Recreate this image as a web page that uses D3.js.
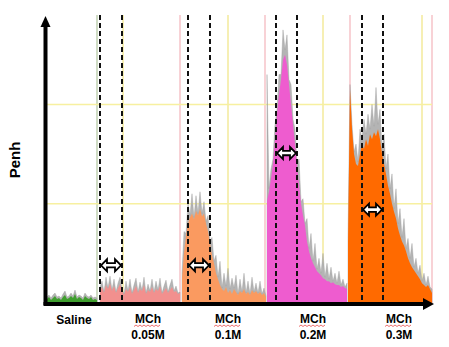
<!DOCTYPE html>
<html>
<head>
<meta charset="utf-8">
<script src="https://cdn.jsdelivr.net/npm/d3@7"></script>
<style>
  html, body { margin: 0; padding: 0; background: #fff; }
  #chart { width: 449px; height: 347px; }
  text { font-family: "Liberation Sans", Arial, sans-serif; font-weight: bold; }
</style>
</head>
<body>
<div id="chart"></div>
<script>
// time in minutes, Penh in arbitrary units
const doseLabels = ["Saline", "0.05M", "0.1M", "0.2M", "0.3M"];
const segStart = [0.1, 5.4, 13.6, 22.1, 30.2];
const segEnd = [5.1, 13.4, 22.0, 30.1, 38.6];

const salineFill = [0.04,0.06,0.03,0.05,0.07,0.04,0.05,0.03,0.06,0.08,0.04,0.05,0.07,0.05,0.09,0.04,0.06,0.05,0.03,0.07,0.05,0.04,0.06,0.03,0.04,0.03];
const salinePeak = [0.06,0.08,0.05,0.08,0.10,0.06,0.07,0.05,0.09,0.12,0.06,0.07,0.10,0.07,0.13,0.06,0.08,0.07,0.05,0.10,0.07,0.06,0.08,0.05,0.06,0.05];

const mch005Fill = [0.12,0.16,0.10,0.18,0.14,0.20,0.12,0.17,0.10,0.15,0.19,0.13,0.08,0.14,0.11,0.16,0.09,0.13,0.17,0.10,0.14,0.12,0.18,0.09,0.13,0.11,0.16,0.10,0.14,0.12,0.17,0.09,0.12,0.15,0.10,0.13,0.16,0.11,0.12,0.09,0.10];
const mch005Peak = [0.16,0.22,0.11,0.26,0.15,0.27,0.13,0.24,0.11,0.20,0.26,0.14,0.09,0.22,0.12,0.24,0.10,0.18,0.25,0.11,0.21,0.13,0.26,0.10,0.19,0.12,0.24,0.11,0.22,0.13,0.25,0.10,0.17,0.23,0.11,0.18,0.24,0.12,0.17,0.10,0.11];

const mch01Fill = [0.25,0.5,0.68,0.8,0.86,0.9,0.84,0.93,0.88,0.95,0.87,0.9,0.8,0.72,0.6,0.48,0.4,0.3,0.24,0.18,0.14,0.12,0.16,0.1,0.13,0.09,0.14,0.11,0.08,0.12,0.1,0.14,0.09,0.11,0.08,0.13,0.1,0.12,0.09,0.11,0.08,0.1,0.06];
const mch01Peak = [0.3,0.72,0.7,1.0,0.88,1.1,0.86,1.08,0.9,1.12,0.9,1.02,0.82,0.88,0.62,0.66,0.42,0.48,0.26,0.42,0.15,0.3,0.17,0.35,0.14,0.25,0.15,0.28,0.09,0.24,0.11,0.3,0.1,0.22,0.09,0.26,0.11,0.2,0.1,0.22,0.09,0.15,0.07];

const mch02Fill = [1.03,1.12,1.25,1.4,1.65,1.9,2.1,2.25,2.45,2.5,2.4,2.2,2.0,1.8,1.6,1.38,1.2,1.0,0.88,0.78,0.62,0.52,0.45,0.4,0.36,0.32,0.3,0.28,0.25,0.24,0.22,0.22,0.2,0.21,0.19,0.18,0.18,0.16,0.17,0.15,0.14];
const mch02Peak = [2.3,1.15,1.35,1.45,1.8,1.95,2.3,2.3,2.75,2.55,2.7,2.25,2.2,1.85,1.75,1.4,1.45,1.02,1.05,0.8,0.85,0.55,0.7,0.42,0.6,0.34,0.45,0.3,0.5,0.26,0.4,0.24,0.36,0.22,0.3,0.2,0.32,0.18,0.24,0.16,0.2];

const mch03Fill = [0.6,2.15,1.75,1.5,1.4,1.38,1.5,1.6,1.55,1.65,1.58,1.7,1.65,1.72,1.68,1.75,1.65,1.5,1.4,1.3,1.18,1.1,1.0,0.92,0.85,0.75,0.68,0.62,0.58,0.52,0.45,0.4,0.36,0.33,0.3,0.27,0.24,0.2,0.18,0.16,0.18,0.14,0.1];
const mch03Peak = [0.65,2.2,1.8,1.52,1.6,1.42,1.75,1.65,1.85,1.7,1.9,1.75,2.0,1.78,2.17,1.8,1.95,1.55,1.7,1.35,1.5,1.15,1.3,0.95,1.15,0.8,0.95,0.66,0.85,0.55,0.65,0.45,0.6,0.36,0.45,0.3,0.38,0.22,0.3,0.18,0.27,0.16,0.14];

// averaging windows (dashed lines) and the Penh level marked by the arrow
const windowStart = [5.4, 14.2, 23.0, 31.6];
const windowEnd = [7.6, 16.4, 25.1, 33.7];
const windowPenh = [0.38, 0.38, 1.51, 0.94];

// recorder marker lines and grid levels
const markerTimes = [5.1, 7.7, 13.4, 18.2, 21.9, 27.7, 30.4, 37.6, 38.6];
const markerKinds = ["g", "y", "p", "y", "p", "y", "p", "y", "p"];
const gridPenh = [1, 2];
const labelTimes = [2.8, 10.2, 18.2, 26.7, 35.3];

const fills = [salineFill, mch005Fill, mch01Fill, mch02Fill, mch03Fill];
const peaks = [salinePeak, mch005Peak, mch01Peak, mch02Peak, mch03Peak];
const colors = ["#3f9e2e", "#f2908e", "#fa9a60", "#ee5ccf", "#ff6a00"];
const markerColor = { g: "#cfdcc4", y: "#f6efb4", p: "#f8d2d6" };

const width = 449, height = 347;
const svg = d3.select("#chart").append("svg")
  .attr("width", width)
  .attr("height", height);

const x = d3.scaleLinear().domain([0, 39]).range([46, 436]);
const y = d3.scaleLinear().domain([0, 2.9]).range([303, 15]);

// background grid
svg.append("g").selectAll("line")
  .data(markerTimes)
  .enter().append("line")
  .attr("x1", d => x(d)).attr("x2", d => x(d))
  .attr("y1", y(2.9)).attr("y2", y(0))
  .attr("stroke", (d, i) => markerColor[markerKinds[i]])
  .attr("stroke-width", 2);

svg.append("g").selectAll("line")
  .data(gridPenh)
  .enter().append("line")
  .attr("x1", x(0)).attr("x2", x(38.6))
  .attr("y1", d => y(d)).attr("y2", d => y(d))
  .attr("stroke", "#f7f0a0")
  .attr("stroke-width", 1.5);

// traces
const series = fills.map((f, k) => f.map((v, i) => ({
  t: segStart[k] + i * (segEnd[k] - segStart[k]) / (f.length - 1),
  fill: v,
  peak: peaks[k][i]
})));

const peakArea = d3.area().x(d => x(d.t)).y0(y(0)).y1(d => y(d.peak));
const fillArea = d3.area().x(d => x(d.t)).y0(y(0)).y1(d => y(d.fill));

const traces = svg.append("g");
traces.selectAll(".peak")
  .data(series)
  .enter().append("path")
  .attr("class", "peak")
  .attr("d", peakArea)
  .attr("fill", "#b4b4b4")
  .attr("stroke", "#9a9a9a")
  .attr("stroke-width", 0.4);

traces.selectAll(".fill")
  .data(series)
  .enter().append("path")
  .attr("class", "fill")
  .attr("d", fillArea)
  .attr("fill", (d, i) => colors[i]);

// dashed window lines
const windows = svg.append("g");
windowStart.concat(windowEnd).forEach(t => {
  windows.append("line")
    .attr("x1", x(t)).attr("x2", x(t))
    .attr("y1", y(2.9)).attr("y2", y(0))
    .attr("stroke", "#111")
    .attr("stroke-width", 2)
    .attr("stroke-dasharray", "5,3");
});

// double arrows
windowStart.forEach((t0, i) => {
  const x1 = x(t0) + 1, x2 = x(windowEnd[i]) - 1, cy = y(windowPenh[i]);
  const h = 6, s = 2.2, hl = 6;
  const pts = [[x1, cy], [x1 + hl, cy - h], [x1 + hl, cy - s], [x2 - hl, cy - s], [x2 - hl, cy - h],
    [x2, cy], [x2 - hl, cy + h], [x2 - hl, cy + s], [x1 + hl, cy + s], [x1 + hl, cy + h]];
  svg.append("path")
    .attr("d", d3.line()(pts) + "Z")
    .attr("fill", "#fff")
    .attr("stroke", "#000")
    .attr("stroke-width", 1.8)
    .attr("stroke-linejoin", "miter");
});

// axes with arrow heads
const ax = svg.append("g");
ax.append("line")
  .attr("x1", x(0) - 0.5).attr("x2", x(0) - 0.5)
  .attr("y1", y(0) + 2).attr("y2", 26)
  .attr("stroke", "#000").attr("stroke-width", 4);
ax.append("path")
  .attr("d", `M${x(0) - 0.5},16 L${x(0) - 5.5},27 L${x(0) + 4.5},27 Z`)
  .attr("fill", "#000");
ax.append("line")
  .attr("x1", x(0) - 2.5).attr("x2", 424)
  .attr("y1", y(0) + 1).attr("y2", y(0) + 1)
  .attr("stroke", "#000").attr("stroke-width", 4);
ax.append("path")
  .attr("d", `M434,${y(0) + 1} L423,${y(0) - 5} L423,${y(0) + 7} Z`)
  .attr("fill", "#000");

svg.append("text")
  .attr("transform", "translate(20,160) rotate(-90)")
  .attr("text-anchor", "middle")
  .style("font-size", "15px")
  .text("Penh");

// dose labels
doseLabels.forEach((lab, i) => {
  const cx = x(labelTimes[i]);
  if (i === 0) {
    svg.append("text").attr("x", cx).attr("y", 324)
      .attr("text-anchor", "middle").style("font-size", "12px").text(lab);
    return;
  }
  svg.append("text").attr("x", cx).attr("y", 323)
    .attr("text-anchor", "middle").style("font-size", "12px").text("MCh");
  const zig = d3.range(0, 28, 2).map((d, j) => [cx - 14 + d, 326 + (j % 2 ? -1 : 0.5)]);
  svg.append("path").attr("d", d3.line()(zig))
    .attr("fill", "none").attr("stroke", "#e84a4a").attr("stroke-width", 0.8);
  svg.append("text").attr("x", cx).attr("y", 339)
    .attr("text-anchor", "middle").style("font-size", "12px").text(lab);
});
</script>
</body>
</html>
